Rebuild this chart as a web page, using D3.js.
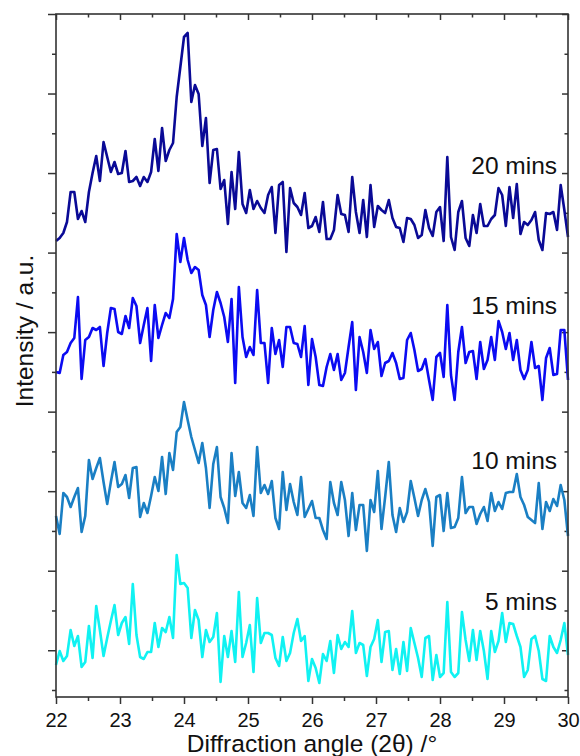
<!DOCTYPE html>
<html>
<head>
<meta charset="utf-8">
<script src="https://cdnjs.cloudflare.com/ajax/libs/d3/7.8.5/d3.min.js"></script>
<style>
  body { margin: 0; background: #fff; }
  text { font-family: "Liberation Sans", Arial, sans-serif; fill: #111; }
</style>
</head>
<body>
<div id="chart"></div>
<script>
// sampling grid of the scans (2theta, degrees)
var angleStart = 22;
var angleStep = 8 / 140;

// stacked intensities (a.u., offset already applied), one value per step
var mins20 = [456,459,464,475,505,505,478,486,475,505,524,541,516,555,540,525,535,523,524,546,
  515,516,520,511,520,515,525,558,526,569,536,547,554,600,630,660,664,595,612,603,
  551,579,514,547,548,508,517,473,525,488,545,493,484,507,488,496,489,484,502,510,
  464,512,515,445,509,494,490,482,504,469,471,480,465,495,458,458,467,502,483,482,
  465,520,485,464,497,460,512,470,491,487,484,497,479,470,469,455,479,478,472,459,
  462,487,469,461,485,490,456,540,460,447,485,496,459,451,482,464,493,471,471,478,
  482,509,502,471,510,479,513,463,475,472,477,485,457,447,484,483,485,467,512,487,460];

var mins15 = [325,324,342,345,354,359,400,318,357,360,369,367,370,331,364,389,388,365,363,381,
  369,399,391,354,372,389,336,392,359,372,384,379,398,463,435,459,437,424,430,427,
  402,392,360,387,405,394,380,355,398,314,410,360,340,350,342,407,354,354,314,369,
  343,357,330,370,370,354,353,340,371,312,358,340,312,311,330,343,327,343,317,324,
  350,375,307,360,345,324,367,348,355,321,334,336,344,334,318,319,357,364,347,326,
  328,338,317,297,340,344,320,392,322,297,345,370,334,345,346,318,355,328,337,360,
  337,376,365,348,364,337,357,327,318,327,355,329,331,297,339,349,322,323,367,367,317];

var mins10 = [181,163,204,200,190,200,209,165,181,237,218,229,239,215,193,215,235,210,213,222,
  199,229,230,180,194,184,201,220,206,240,203,244,227,265,270,295,277,260,247,234,
  254,229,189,233,250,200,189,174,244,201,225,194,189,202,181,250,204,212,203,216,
  179,168,225,187,213,195,182,220,180,188,196,179,179,167,158,215,194,182,215,197,
  161,204,167,192,192,146,197,185,226,168,200,235,182,165,189,175,185,216,199,181,
  197,208,195,151,200,202,166,204,169,170,179,220,184,190,190,173,183,190,176,204,
  186,195,188,204,205,205,223,200,192,180,177,174,214,168,195,186,198,191,212,197,161];

var mins5 = [32,46,36,41,67,51,61,30,35,71,39,91,67,41,59,76,92,62,74,80,
  53,113,62,40,38,45,45,74,50,69,65,80,59,142,113,114,109,59,87,77,
  40,67,55,60,84,15,61,40,66,35,105,40,54,72,25,99,54,64,64,62,
  39,31,60,36,44,64,78,56,61,16,38,29,14,43,36,56,24,62,48,55,
  50,86,44,54,52,21,50,58,77,35,65,66,27,48,23,55,26,69,54,39,
  20,59,61,17,42,20,24,95,25,20,24,85,57,36,67,37,66,46,18,66,
  45,56,84,55,74,73,61,50,20,27,58,61,46,18,16,61,50,44,57,74,42];

var seriesNames = ["20 mins", "15 mins", "10 mins", "5 mins"];
var labelLevels = [523, 383, 228, 87];
var labelAngle = 29.83;

var xTicks = [22, 23, 24, 25, 26, 27, 28, 29, 30];
var xMinorTicks = [22.5, 23.5, 24.5, 25.5, 26.5, 27.5, 28.5, 29.5];

function init() {
    var w = 580;
    var h = 756;
    var left = 56, right = 568, top = 14, bottom = 697;
    var colors = ["#0a0a96", "#0b0bf2", "#1a7fc4", "#10f2f2"];
    var allSeries = [mins20, mins15, mins10, mins5];

    var svg = d3.select("#chart")
        .append("svg")
        .attr("width", w)
        .attr("height", h);

    var xScale = d3.scaleLinear().domain([22, 30]).range([left, right]);
    var yScale = d3.scaleLinear().domain([0, 683]).range([bottom, top]);

    // unlabelled y ticks, major every other one
    var yStep = 676 / 17;
    var yMajor = [], yMinor = [];
    for (var i = 0; i <= 17; i++) {
        if (i % 2 === 1) yMajor.push(7 + i * yStep);
        else yMinor.push(7 + i * yStep);
    }

    function styleAxis(g) {
        g.select(".domain").remove();
        g.selectAll(".tick line").attr("stroke", "#333").attr("stroke-width", 1.5);
    }

    // bottom axis
    svg.append("g")
        .attr("transform", "translate(0," + bottom + ")")
        .call(d3.axisBottom(xScale).tickValues(xTicks).tickSize(7).tickFormat(d3.format("d")))
        .call(styleAxis)
        .call(function(g) {
            g.selectAll("text")
                .attr("y", 30).attr("dy", null)
                .style("font-size", "20px")
                .style("font-family", "'Liberation Sans', Arial, sans-serif")
                .attr("fill", "#111");
        });
    svg.append("g")
        .attr("transform", "translate(0," + bottom + ")")
        .call(d3.axisBottom(xScale).tickValues(xMinorTicks).tickSize(4).tickFormat(""))
        .call(styleAxis);

    // top axis (ticks inward)
    svg.append("g")
        .attr("transform", "translate(0," + top + ")")
        .call(d3.axisTop(xScale).tickValues(xTicks).tickSize(-6).tickFormat(""))
        .call(styleAxis);
    svg.append("g")
        .attr("transform", "translate(0," + top + ")")
        .call(d3.axisTop(xScale).tickValues(xMinorTicks).tickSize(-3.5).tickFormat(""))
        .call(styleAxis);

    // left axis
    svg.append("g")
        .attr("transform", "translate(" + left + ",0)")
        .call(d3.axisLeft(yScale).tickValues(yMajor).tickSize(8).tickFormat(""))
        .call(styleAxis);
    svg.append("g")
        .attr("transform", "translate(" + left + ",0)")
        .call(d3.axisLeft(yScale).tickValues(yMinor).tickSize(4).tickFormat(""))
        .call(styleAxis);

    // right axis (ticks inward)
    svg.append("g")
        .attr("transform", "translate(" + right + ",0)")
        .call(d3.axisRight(yScale).tickValues(yMajor).tickSize(-6).tickFormat(""))
        .call(styleAxis);
    svg.append("g")
        .attr("transform", "translate(" + right + ",0)")
        .call(d3.axisRight(yScale).tickValues(yMinor).tickSize(-3.5).tickFormat(""))
        .call(styleAxis);

    //data lines
    var line = d3.line()
        .x(function(d, i) { return xScale(angleStart + i * angleStep); })
        .y(function(d) { return yScale(d); });

    svg.selectAll("path.scan")
        .data(allSeries)
        .enter()
        .append("path")
        .attr("class", "scan")
        .attr("d", line)
        .attr("fill", "none")
        .attr("stroke", function(d, i) { return colors[i]; })
        .attr("stroke-width", 2.6)
        .attr("stroke-linejoin", "round");

    // frame
    svg.append("rect")
        .attr("x", left)
        .attr("y", top)
        .attr("width", right - left)
        .attr("height", bottom - top)
        .attr("fill", "none")
        .attr("stroke", "#333")
        .attr("stroke-width", 1.6);

    // series labels
    svg.selectAll("text.series")
        .data(seriesNames)
        .enter()
        .append("text")
        .attr("class", "series")
        .attr("x", xScale(labelAngle))
        .attr("y", function(d, i) { return yScale(labelLevels[i]); })
        .attr("text-anchor", "end")
        .style("font-size", "24.5px")
        .text(function(d) { return d; });

    //axis titles
    svg.append("text")
        .attr("x", 312)
        .attr("y", 752)
        .attr("text-anchor", "middle")
        .style("font-size", "24.5px")
        .text("Diffraction angle (2\u03b8) /\u00b0");

    svg.append("text")
        .attr("transform", "rotate(-90)")
        .attr("x", -331)
        .attr("y", 33)
        .attr("text-anchor", "middle")
        .style("font-size", "24.5px")
        .text("Intensity / a.u.");
}

window.onload = init;
</script>
</body>
</html>
